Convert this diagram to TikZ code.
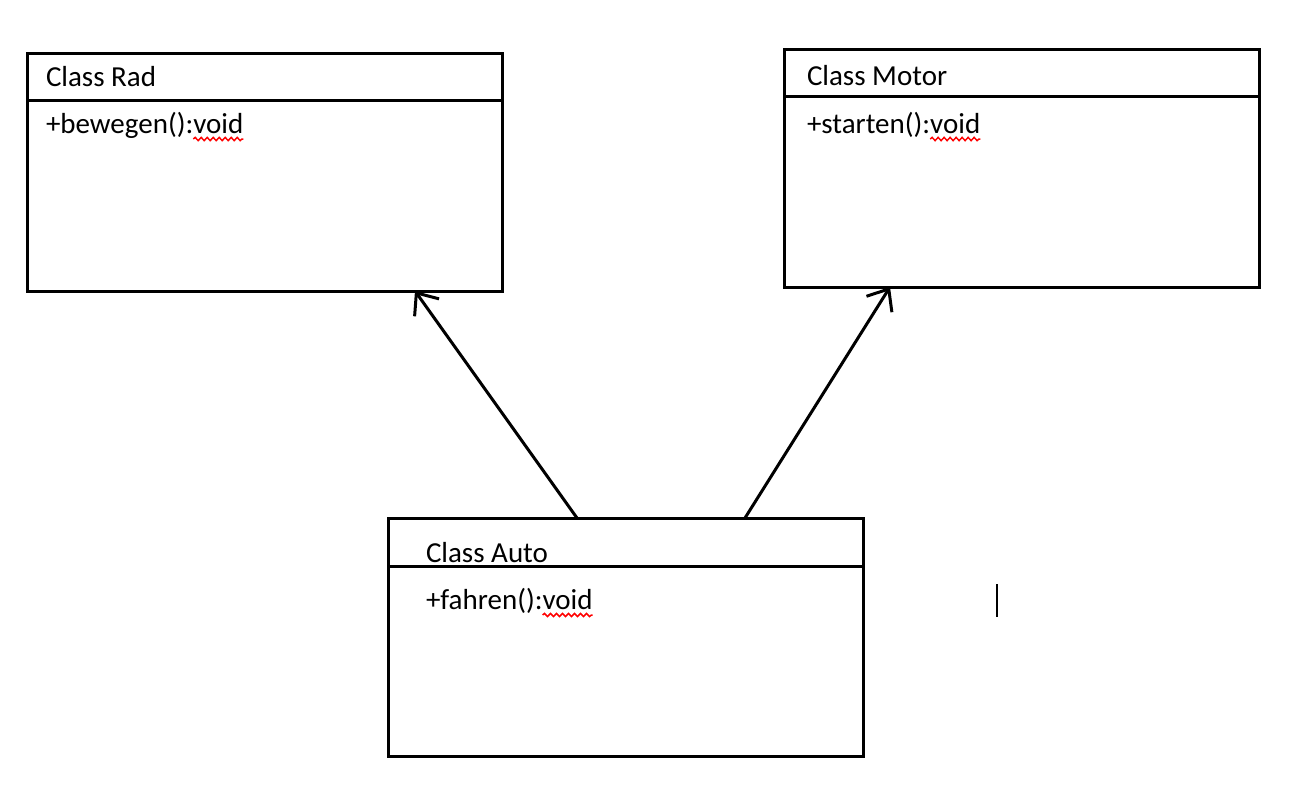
\documentclass[tikz,border=0pt]{standalone}
\usepackage{fontspec}
\setmainfont{Carlito}
\usetikzlibrary{arrows.meta,decorations.pathmorphing}

\begin{document}
\begin{tikzpicture}[x=1pt, y=-1pt, line width=3pt,
  classbox/.style={draw, rectangle, anchor=north west, inner sep=0pt, outer sep=0pt,
    minimum width=475pt, minimum height=238pt},
  lbl/.style={anchor=base west, inner sep=0pt, outer sep=0pt,
    font=\fontsize{29}{34}\selectfont},
  spell/.style={draw=red, line width=1.5pt, decorate,
    decoration={snake, amplitude=1.6pt, segment length=6pt}},
  assoc/.style={-{Straight Barb[length=18pt, width=30pt]}, line cap=round}]
\useasboundingbox (0,0) rectangle (1312,793);
%%%%% Classes %%%%%
\node[classbox] (rad) at (27,53) {};
\node[classbox] (motor) at (784,49) {};
\node[classbox] (auto) at (388,518) {};
\draw (rad.north west) ++(0,47) -- ++(475,0);
\draw (motor.north west) ++(0,47) -- ++(475,0);
\draw (auto.north west) ++(0,48) -- ++(475,0);
%%%%% Texts %%%%%
\node[lbl] (radName) at (46,86) {Class Rad};
\node[lbl] (radOp) at (46,133) {+bewegen():};
\node[lbl] (radVoid) at (radOp.base east) {void};
\node[lbl] (motorName) at (807,85) {Class Motor};
\node[lbl] (motorOp) at (807,133) {+starten():};
\node[lbl] (motorVoid) at (motorOp.base east) {void};
\node[lbl] (autoName) at (426,562) {Class Auto};
\node[lbl] (autoOp) at (426,609) {+fahren():};
\node[lbl] (autoVoid) at (autoOp.base east) {void};
\foreach \v in {radVoid,motorVoid,autoVoid}{
\draw[spell] ([yshift=-6pt]\v.base west) -- ([yshift=-6pt]\v.base east);
}
%%%%% Associations %%%%%
\coordinate (autoL) at ([xshift=189pt]auto.north west);
\coordinate (autoR) at ([xshift=357pt]auto.north west);
\coordinate (radIn) at ([xshift=388pt]rad.south west);
\coordinate (motorIn) at ([xshift=106pt]motor.south west);
\draw[assoc] (autoL) -- (radIn);
\draw[assoc] (autoR) -- (motorIn);
%%%%% Cursor %%%%%
\coordinate (cursorTop) at (997,584);
\coordinate (cursorBot) at (997,617);
\draw[line width=1.5pt] (cursorTop) -- (cursorBot);
\end{tikzpicture}
\end{document}
